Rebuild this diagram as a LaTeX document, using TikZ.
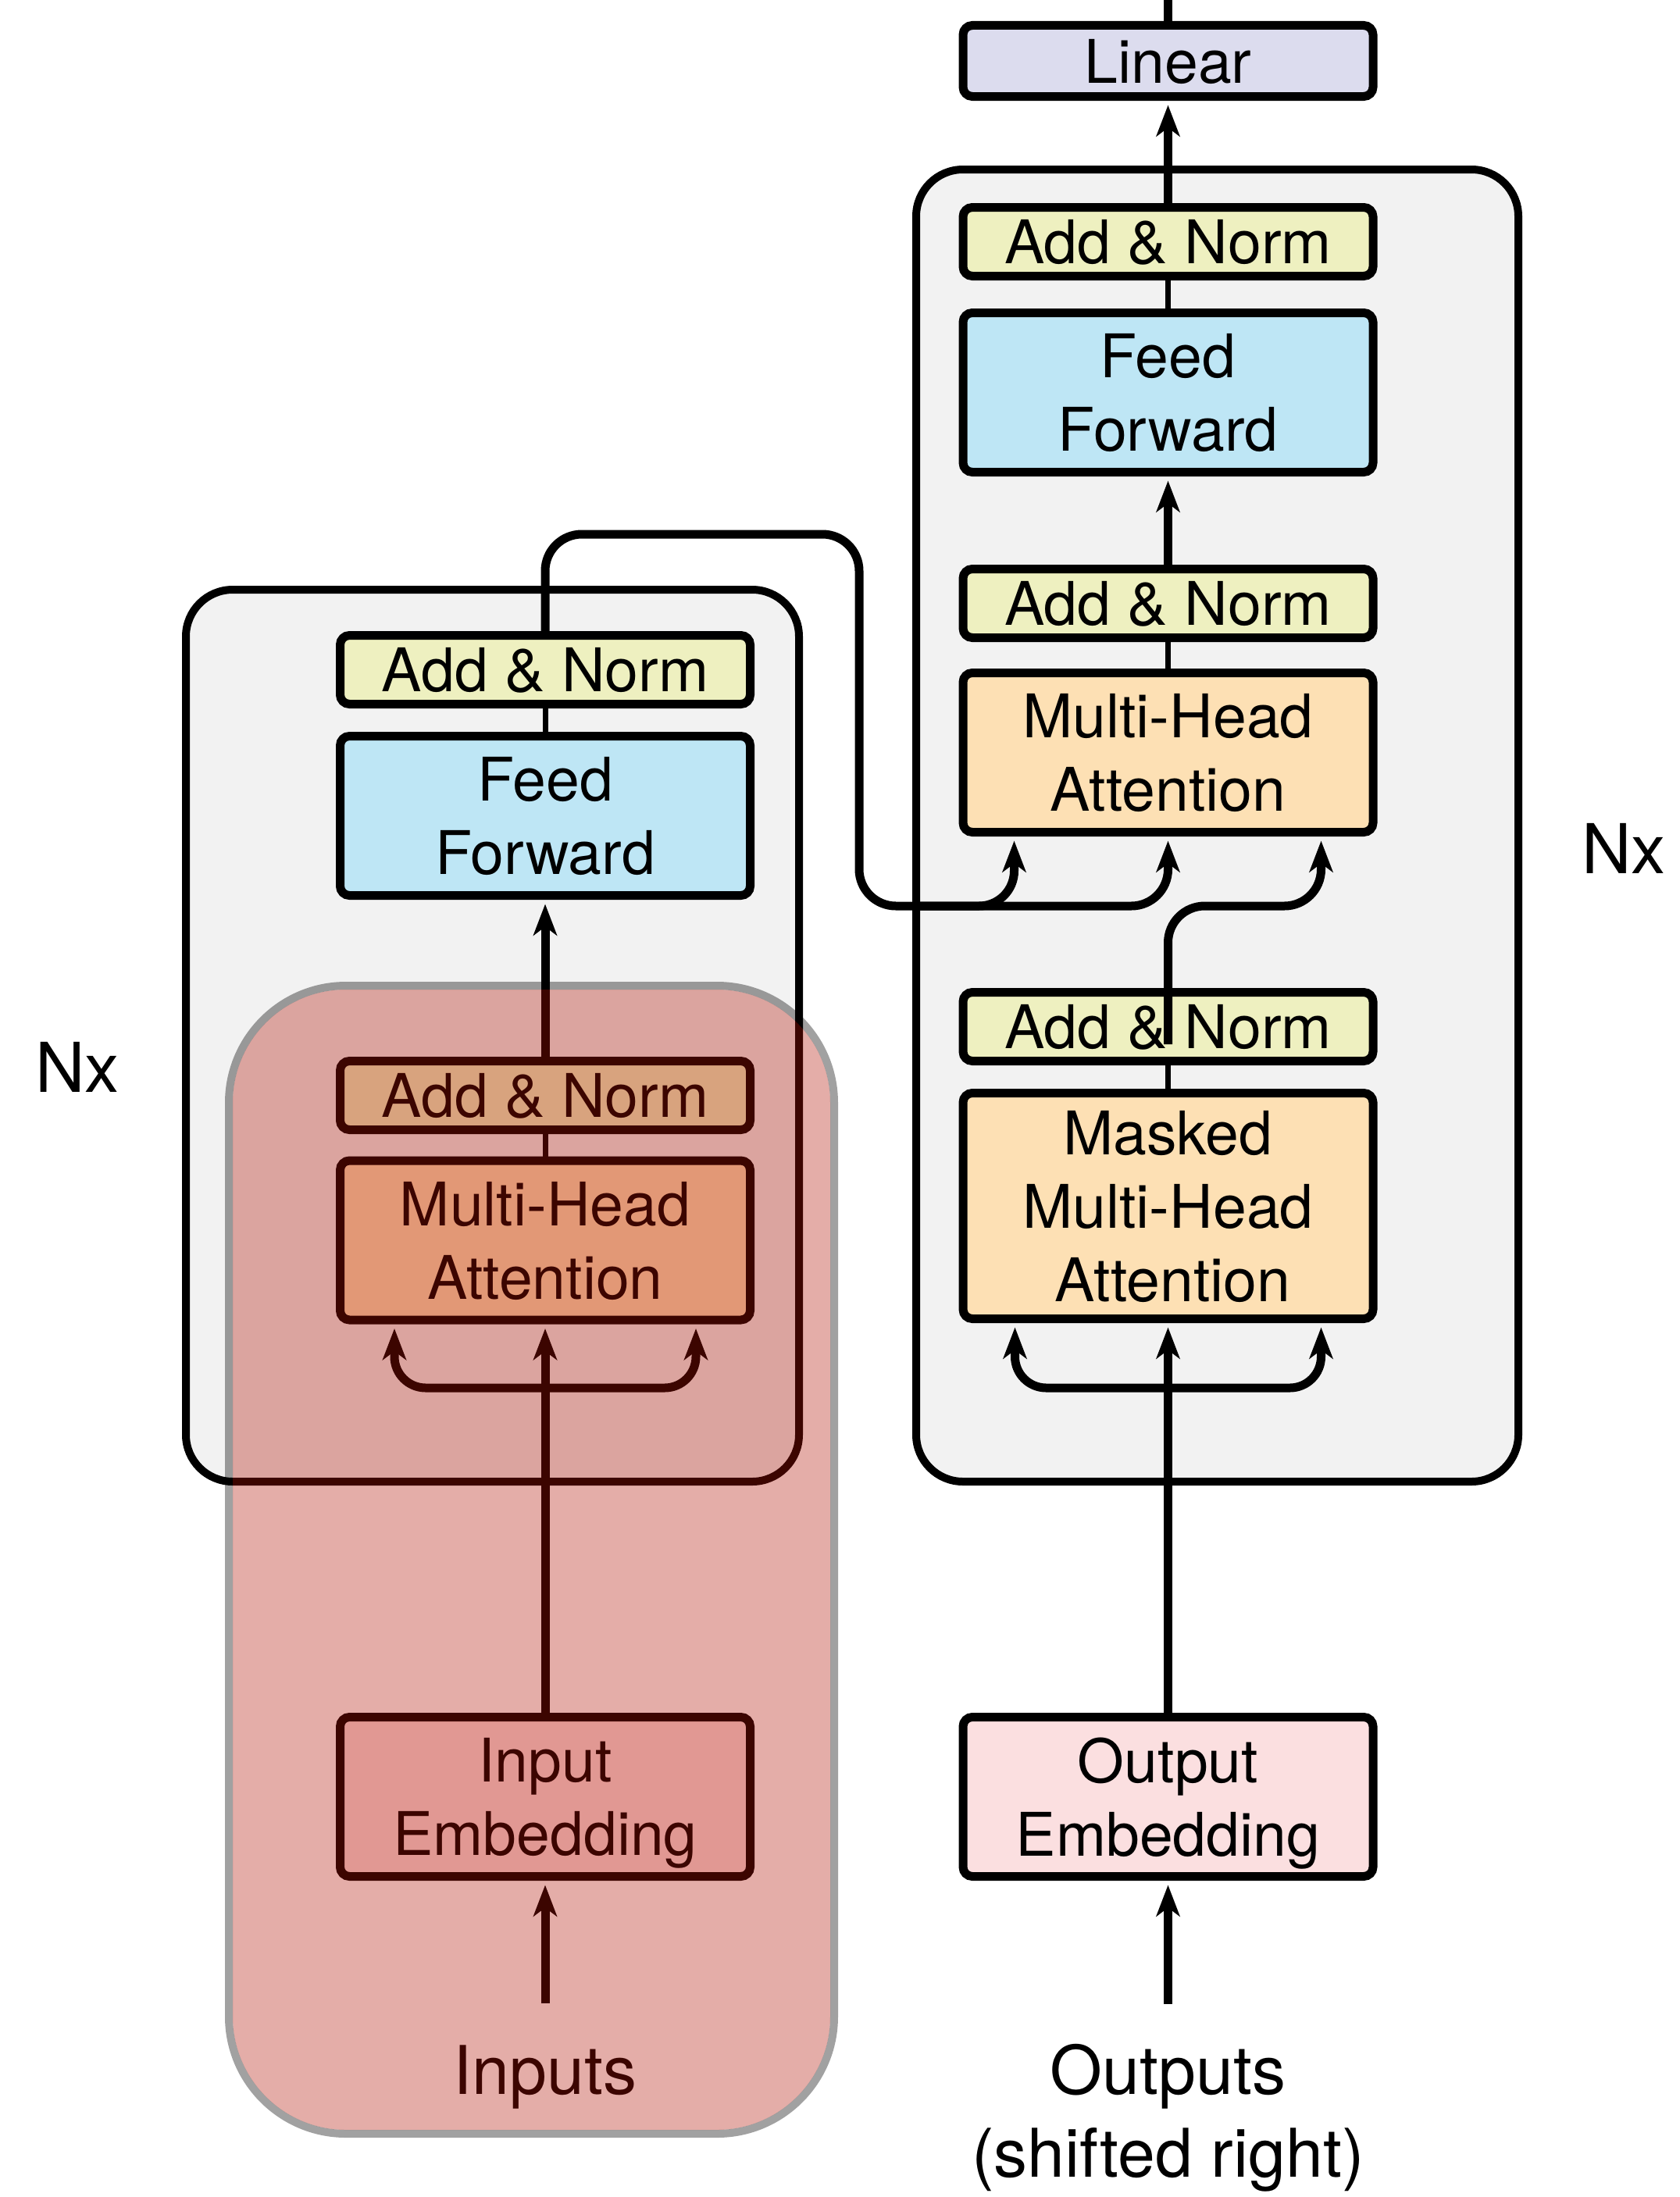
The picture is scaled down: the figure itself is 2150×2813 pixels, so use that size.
\documentclass[tikz,border=0pt]{standalone}
\usepackage{fontspec}
\setmainfont{TeX Gyre Heros}
\usetikzlibrary{arrows.meta}

\definecolor{blockgray}{HTML}{F2F2F2}
\definecolor{normfill}{HTML}{EEF0C0}
\definecolor{ffwdfill}{HTML}{BEE6F5}
\definecolor{attnfill}{HTML}{FDE0B4}
\definecolor{linfill}{HTML}{DCDCEE}
\definecolor{embfill}{HTML}{FBDFE0}
\definecolor{veil}{RGB}{176,15,0}

\newcommand\blkfont{\fontsize{77}{94}\selectfont}
\newcommand\lblfont{\fontsize{86}{106}\selectfont}
\newcommand\repfont{\fontsize{88}{100}\selectfont}

\begin{document}
\begin{tikzpicture}[x=1pt,y=-1pt,
  >={Stealth[length=40pt,width=30pt,inset=11pt]},
  stack/.style={draw=black, fill=blockgray, line width=10pt, rounded corners=60pt,
    inner sep=0pt},
  layer/.style={draw=black, line width=11pt, rounded corners=12pt, inner sep=0pt,
    minimum width=525pt, align=center, font=\blkfont, text depth=0pt},
  norm/.style={layer, fill=normfill, minimum height=88pt},
  ffwd/.style={layer, fill=ffwdfill, minimum height=204pt},
  attn/.style={layer, fill=attnfill, minimum height=204pt},
  emb/.style={layer, fill=embfill, minimum height=204pt},
  conn/.style={draw=black, line width=11pt},
  arr/.style={conn, ->, shorten >=5.5pt},
  link/.style={draw=black, line width=7pt},
  lbl/.style={font=\lblfont, inner sep=0pt, anchor=base},
  rep/.style={font=\repfont, inner sep=0pt, anchor=base west},
]
\useasboundingbox (0,0) rectangle (2150,2813);

% the two repeated stacks
\node[stack, minimum width=785pt, minimum height=1142pt] (encBlock) at (630.5,1326) {};
\node[stack, minimum width=771pt, minimum height=1680pt] (decBlock) at (1558.5,1057) {};

% encoder layers
\node[emb]  (encEmb) at (698,2300.5) {Input\\Embedding};
\node[attn] (encMHA) at (698,1588)   {Multi-Head\\Attention};
\node[norm] (encAN1) at (698,1402.5) {Add \& Norm};
\node[ffwd] (encFF)  at (698,1044.5) {Feed\\Forward};
\node[norm] (encAN2) at (698,857.5)  {Add \& Norm};

% decoder layers
\node[emb]  (decEmb)  at (1495.5,2300.5) {Output\\Embedding};
\node[attn, minimum height=289pt] (decMMHA) at (1495.5,1544) {Masked\\Multi-Head\\\hspace*{12pt}Attention};
\node[norm] (decAN1)  at (1495.5,1314.5) {Add \& Norm};
\node[attn] (decMHA)  at (1495.5,963.5)  {Multi-Head\\Attention};
\node[norm] (decAN2)  at (1495.5,772.5)  {Add \& Norm};
\node[ffwd] (decFF)   at (1495.5,502.5)  {Feed\\Forward};
\node[norm] (decAN3)  at (1495.5,309.5)  {Add \& Norm};
\node[layer, fill=linfill, minimum height=91pt] (lin) at (1495.5,78) {Linear};

% labels
\node[lbl] (encIn) at (698,2681) {Inputs};
\node[lbl] (decOut) at (1495.5,2681) {Outputs};
\node[lbl] (decOutNote) at (1495.5,2787) {(shifted right)};
\node[rep] (encRep) at (45,1398) {Nx};
\node[rep] (decRep) at (2025,1118) {Nx};

% routing points
\coordinate (encSplit) at (698,1777);
\coordinate (decSplit) at (1495.5,1777);
\coordinate (encOver)  at (1100,684);
\coordinate (decJoin)  at (1495.5,1160);
\coordinate (encBranch) at (1170,1160);
\coordinate (topEdge)  at (1495.5,0);

% encoder flow
\draw[arr, shorten <=53pt] (encIn.north) -- (encEmb.south);
\draw[arr] (encEmb.north) -- (encMHA.south);
\draw[arr, rounded corners=40pt] (encSplit) -| ([xshift=-193pt]encMHA.south);
\draw[arr, rounded corners=40pt] (encSplit) -| ([xshift=193pt]encMHA.south);
\draw[link] (encMHA.north) -- (encAN1.south);
\draw[arr] (encAN1.north) -- (encFF.south);
\draw[link] (encFF.north) -- (encAN2.south);

% encoder output into the decoder attention
\draw[arr, rounded corners=47pt] (encAN2.north) |- (encOver) |- (decJoin) -- (decMHA.south);
\draw[arr, rounded corners=45pt] (encBranch) -| ([xshift=-197pt]decMHA.south);

% decoder flow
\draw[arr, shorten <=51pt] (decOut.north) -- (decEmb.south);
\draw[arr] (decEmb.north) -- (decMMHA.south);
\draw[arr, rounded corners=40pt] (decSplit) -| ([xshift=-196pt]decMMHA.south);
\draw[arr, rounded corners=40pt] (decSplit) -| ([xshift=196pt]decMMHA.south);
\draw[link] (decMMHA.north) -- (decAN1.south);
\draw[arr, rounded corners=47pt] ([yshift=-72pt]decAN1.north) -- (decJoin) -| ([xshift=196pt]decMHA.south);
\draw[link] (decMHA.north) -- (decAN2.south);
\draw[arr] (decAN2.north) -- (decFF.south);
\draw[link] (decFF.north) -- (decAN3.south);
\draw[arr] (decAN3.north) -- (lin.south);
\draw[conn] (lin.north) -- (topEdge);

% tinted highlight over the encoder's lower half
\fill[veil, fill opacity=0.34, rounded corners=145pt] (298,1267) rectangle (1063,2727);
\draw[black, draw opacity=0.37, line width=10pt, rounded corners=150pt] (293,1262) rectangle (1068,2732);
\end{tikzpicture}
\end{document}
